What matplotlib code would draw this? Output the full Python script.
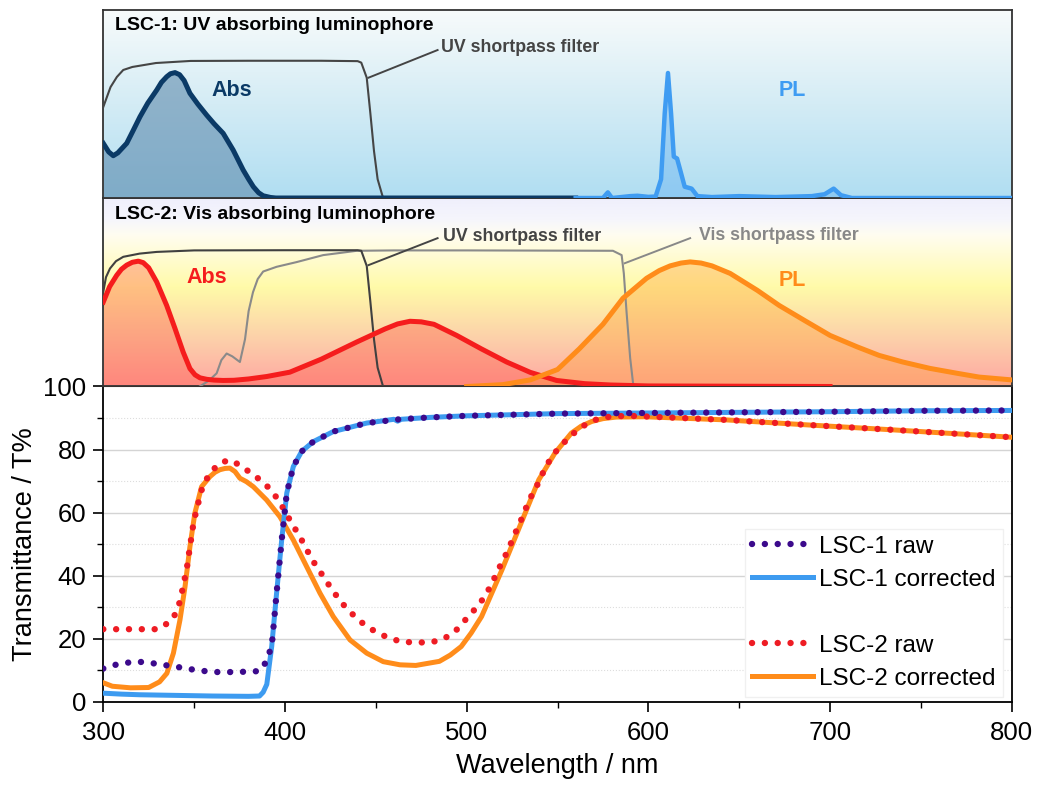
import numpy as np
import matplotlib
matplotlib.use('Agg')
import matplotlib.pyplot as plt
from matplotlib.colors import LinearSegmentedColormap
from matplotlib.lines import Line2D

plt.rcParams['font.family'] = ['Liberation Sans', 'DejaVu Sans']

# ---- 上图：LSC-1 示意光谱（归一化 0-1）----
uv_filter_wl = [300, 304, 307.5, 311, 316, 329, 348, 380, 420, 440, 442, 445, 447, 449, 451, 454]
uv_filter_1 = [0.484, 0.59, 0.644, 0.681, 0.697, 0.718, 0.729, 0.73, 0.73, 0.728, 0.72, 0.64, 0.45, 0.25, 0.1, 0.0]

abs1_wl = [300, 303, 305.5, 308, 312.9, 316.5, 320.2, 324.5, 329.4, 332, 334.9, 337, 339.5, 342,
           344.5, 347.7, 352, 356.9, 361, 366, 371.5, 377, 380, 382.6, 385.5, 388, 392, 395, 560]
abs1 = [0.291, 0.245, 0.225, 0.24, 0.291, 0.36, 0.432, 0.505, 0.574, 0.615, 0.645, 0.661, 0.667, 0.656,
        0.625, 0.557, 0.5, 0.441, 0.395, 0.344, 0.255, 0.149, 0.1, 0.06, 0.028, 0.012, 0.003, 0.0, 0.0]

pl1_wl = [560, 575, 577.7, 580, 590, 594, 600, 604, 607, 609, 610.8, 612.5, 614, 615.8, 617.5, 620,
          623.8, 627, 635, 650, 670, 690, 697, 702, 706, 712, 800]
pl1 = [0, 0, 0.03, 0, 0.01, 0.012, 0.006, 0.008, 0.1, 0.45, 0.665, 0.45, 0.22, 0.21, 0.15, 0.06,
       0.05, 0.01, 0.005, 0.01, 0.005, 0.01, 0.02, 0.05, 0.015, 0, 0]

# ---- 中图：LSC-2 示意光谱 ----
uv_filter_wl2 = [300, 301.5, 303.7, 307, 311, 320, 329.4, 350, 400, 440, 442, 445, 447, 449, 451, 454]
uv_filter_2 = [0.502, 0.58, 0.626, 0.665, 0.688, 0.705, 0.714, 0.722, 0.723, 0.723, 0.72, 0.64, 0.45,
               0.25, 0.1, 0.0]

vis_filter_wl = [353, 358, 362.4, 365, 367.9, 371, 375.2, 378, 380, 382.4, 385, 388, 395.4, 406.4,
                 421, 439.5, 460, 500, 580.5, 585.3, 586.5, 588, 590, 591.6, 593]
vis_filter = [0, 0.03, 0.07, 0.14, 0.175, 0.16, 0.13, 0.25, 0.40, 0.50, 0.57, 0.61, 0.635, 0.66,
              0.697, 0.72, 0.722, 0.722, 0.72, 0.697, 0.6, 0.395, 0.15, 0.016, 0.0]

abs2_wl = [300, 303.5, 307.4, 310, 312.9, 316, 319.3, 322, 325, 329.4, 334.9, 339.5, 344, 347.7,
           350.5, 353.2, 357, 361, 366, 372, 380, 390, 402.7, 420, 439.5, 455, 462, 468.8, 475, 482,
           494.5, 508, 522, 535, 549.5, 565, 579, 600, 700]
abs2 = [0.448, 0.53, 0.59, 0.622, 0.644, 0.659, 0.665, 0.657, 0.63, 0.555, 0.43, 0.307, 0.182, 0.095,
        0.062, 0.046, 0.038, 0.034, 0.032, 0.033, 0.04, 0.053, 0.076, 0.145, 0.236, 0.305, 0.332, 0.346,
        0.343, 0.33, 0.271, 0.2, 0.13, 0.075, 0.032, 0.015, 0.008, 0.003, 0]

pl2_wl = [500, 520, 535, 550, 562, 575, 586, 599, 606, 612, 618, 623, 629, 635, 645, 660, 672, 686,
          700, 715, 727, 740, 755, 770, 782, 800]
pl2 = [0.0, 0.01, 0.035, 0.09, 0.2, 0.33, 0.468, 0.574, 0.615, 0.64, 0.655, 0.661, 0.655, 0.64, 0.60,
       0.51, 0.43, 0.35, 0.271, 0.21, 0.165, 0.13, 0.096, 0.07, 0.05, 0.035]

# ---- 下图：透过率 T% ----
wl1_corr = [300, 310, 320, 340, 360, 380, 386, 388, 390, 392.7, 395.4, 398.2, 401, 404.6, 409.2,
            415.6, 426.6, 445, 460, 462, 464, 480, 500, 550, 600, 650, 700, 750, 800]
t1_corr = [2.7, 2.4, 2.2, 2.0, 1.8, 1.7, 1.8, 3.0, 5.5, 17.5, 34.5, 51.3, 66.2, 74.6, 79.4,
           82.5, 85.7, 88.4, 89.6, 89.0, 89.6, 90.2, 90.7, 91.4, 91.6, 91.8, 92.0, 92.3, 92.4]

wl1_raw = [300, 305, 312, 319, 326, 334, 341, 348, 356, 363, 371, 378, 386, 388.5, 390, 392.7,
           395.4, 398.2, 401, 404.6, 409.2, 415.6, 426.6, 445, 463, 480, 500, 550, 600, 650, 700, 750, 800]
t1_raw = [10.5, 11.5, 12.3, 12.7, 12.3, 11.6, 11.0, 10.3, 9.7, 9.4, 9.4, 9.5, 9.7, 11.5, 13.5, 17.5,
          34.5, 51.3, 66.2, 74.6, 79.4, 82.5, 85.7, 88.4, 89.6, 90.2, 90.7, 91.4, 91.6, 91.8, 92.0, 92.3, 92.4]

wl2_corr = [300, 305, 315, 325, 331, 335, 338.6, 342.2, 345, 347.7, 350.4, 354.1, 358.7, 361.5, 364.2,
            367, 369.7, 372.5, 375.2, 378.8, 382.6, 389.9, 397.2, 404.6, 411.9, 419.3, 426.6, 435.8,
            445, 454.1, 463.3, 472, 485, 491, 497, 502.5, 508.2, 519.4, 530.7, 539.7, 548.6, 557.6,
            563, 568.8, 575, 582.3, 598, 643, 688, 733, 778, 800]
t2_corr = [6.0, 4.9, 4.4, 4.5, 6.3, 9.0, 15.4, 25.9, 36.5, 49.2, 59.8, 68.2, 71.4, 72.8, 73.6,
           74.0, 74.1, 73.0, 70.9, 69.8, 68.2, 64.0, 58.7, 51.3, 42.9, 34.4, 27.0, 19.6,
           15.4, 12.7, 11.7, 11.5, 12.8, 14.8, 17.5, 21.8, 27.0, 41.8, 57.7, 70.4, 78.9, 85.2,
           87.4, 88.9, 89.8, 90.3, 90.4, 89.4, 87.8, 86.3, 84.7, 83.9]

wl2_raw = [300, 308, 315, 322, 330, 337.4, 340.9, 342.8, 344.4, 345.9, 347, 348.1, 349.2, 350.7,
           352.5, 354.5, 358.3, 363.9, 369.7, 375.6, 382, 387.7, 392.7, 396.9, 400.6, 404, 407.9,
           411.4, 415, 419.3, 423.5, 428, 433, 438.5, 444.4, 450.5, 456.8, 464.2, 471.5, 480, 487,
           493.5, 499.2, 504.8, 509.3, 513, 516.5, 520, 522.9, 525.8, 528.9, 531.8, 535, 538.5,
           541.9, 545.3, 549.8, 555.4, 561, 566.7, 573.4, 580, 589, 598, 643, 688, 733, 778, 800]
t2_raw = [23, 23, 23, 23, 23, 25.6, 29.1, 33.4, 37.9, 42, 46.4, 50.6, 55, 59.3,
          63.5, 67.9, 72.2, 75.7, 76.7, 74.9, 72.2, 69.8, 66.9, 63.5, 59.8, 56.3, 52.7,
          48.9, 45, 41.3, 37.6, 33.9, 30.2, 27, 24.1, 22, 20.3, 19, 18.8, 18.8, 19.8,
          22.2, 25.9, 29.5, 32.8, 36.5, 40.7, 45, 48.1, 52.4, 56.1, 60.3, 64.6, 68.3,
          72.5, 76.2, 79.9, 83.3, 86.2, 88.4, 90, 90.5, 90.7, 90.5, 89.4, 87.8, 86.3, 84.7, 83.9]

fig = plt.figure(figsize=(10.41, 7.87), dpi=100)
left, width = 0.0992, 0.8727
ax = fig.add_axes([left, 0.1084, width, 0.4005])
ax2 = fig.add_axes([left, 0.5089, width, 0.2395])
ax1 = fig.add_axes([left, 0.7484, width, 0.2389])


def 背景渐变(a, stops):
    cmap = LinearSegmentedColormap.from_list('bg', stops)
    a.imshow(np.linspace(0, 1, 256).reshape(-1, 1), cmap=cmap, extent=[300, 800, 0, 1],
             aspect='auto', origin='lower', zorder=0)


def 面板设置(a):
    a.set_xlim(300, 800)
    a.set_ylim(0, 1)
    a.set_xticks([])
    a.set_yticks([])
    for s in a.spines.values():
        s.set_color('#333333')
        s.set_linewidth(1.3)


# 面板1
背景渐变(ax1, [(0, '#b0def2'), (0.5, '#d4ecf5'), (1, '#f8fbfb')])
ax1.fill_between(abs1_wl, abs1, color='#5f8bad', alpha=0.6, lw=0, zorder=2)
ax1.fill_between(pl1_wl, pl1, color='#3f9cf2', alpha=0.3, lw=0, zorder=2)
ax1.plot(uv_filter_wl, uv_filter_1, color='#454545', lw=1.5, zorder=3)
ax1.plot(abs1_wl, abs1, color='#0b3a66', lw=3.6, zorder=4, solid_joinstyle='round')
ax1.plot(pl1_wl, pl1, color='#3f9cf2', lw=3.2, zorder=4, solid_joinstyle='round')
ax1.text(0.013, 0.915, 'LSC-1: UV absorbing luminophore', transform=ax1.transAxes,
         fontsize=14, fontweight='bold', va='center', ha='left', color='black')
ax1.text(486, 0.80, 'UV shortpass filter', fontsize=12.8, fontweight='bold', color='#444444',
         va='center', ha='left')
ax1.plot([484, 446], [0.787, 0.64], color='#444444', lw=1.4, zorder=3)
ax1.text(371, 0.574, 'Abs', fontsize=15.5, fontweight='bold', color='#0b3a66', ha='center', va='center')
ax1.text(679, 0.574, 'PL', fontsize=15.5, fontweight='bold', color='#3f9cf2', ha='center', va='center')
面板设置(ax1)

# 面板2
背景渐变(ax2, [(0, '#ffa8a2'), (0.25, '#fcd0aa'), (0.52, '#fffaa8'), (0.8, '#fffdf0'),
               (0.88, '#f6f6fc'), (1, '#efeffc')])
ax2.fill_between(abs2_wl, abs2, color='#ff3a2a', alpha=0.3, lw=0, zorder=2)
ax2.fill_between(pl2_wl, pl2, color='#ff9a2a', alpha=0.35, lw=0, zorder=2)
ax2.plot(vis_filter_wl, vis_filter, color='#8a8a8a', lw=1.5, zorder=3)
ax2.plot(uv_filter_wl2, uv_filter_2, color='#404040', lw=1.5, zorder=3)
ax2.plot(abs2_wl, abs2, color='#f51d1d', lw=3.6, zorder=4, solid_joinstyle='round')
ax2.plot(pl2_wl, pl2, color='#ff8c1a', lw=3.6, zorder=4, solid_joinstyle='round')
ax2.text(0.013, 0.91, 'LSC-2: Vis absorbing luminophore', transform=ax2.transAxes,
         fontsize=14, fontweight='bold', va='center', ha='left', color='black')
ax2.text(487, 0.795, 'UV shortpass filter', fontsize=12.8, fontweight='bold', color='#444444',
         va='center', ha='left')
ax2.plot([484, 446], [0.787, 0.644], color='#444444', lw=1.4, zorder=3)
ax2.text(628, 0.803, 'Vis shortpass filter', fontsize=12.8, fontweight='bold', color='#888888',
         va='center', ha='left')
ax2.plot([623, 587], [0.787, 0.654], color='#888888', lw=1.4, zorder=3)
ax2.text(357, 0.58, 'Abs', fontsize=15.5, fontweight='bold', color='#f51d1d', ha='center', va='center')
ax2.text(679, 0.564, 'PL', fontsize=15.5, fontweight='bold', color='#ff8c1a', ha='center', va='center')
面板设置(ax2)

# 下图透过率
ax.plot(wl2_corr, t2_corr, color='#ff8c1a', lw=3.6, zorder=3, label='LSC-2 corrected',
        solid_joinstyle='round')
ax.plot(wl1_corr, t1_corr, color='#3d9bf0', lw=3.6, zorder=3, label='LSC-1 corrected',
        solid_joinstyle='round')
ax.plot(wl2_raw, t2_raw, color='#ee1c24', lw=4.6, ls=(0, (0.01, 2.0)), dash_capstyle='round',
        zorder=4, label='LSC-2 raw')
ax.plot(wl1_raw, t1_raw, color='#3c0a8c', lw=4.6, ls=(0, (0.01, 2.0)), dash_capstyle='round',
        zorder=5, label='LSC-1 raw')

ax.set_xlim(300, 800)
ax.set_ylim(0, 100)
ax.set_xticks(range(300, 801, 100))
ax.set_xticks(range(350, 800, 100), minor=True)
ax.set_yticks(range(0, 101, 20))
ax.set_yticks(range(10, 100, 20), minor=True)
ax.tick_params(which='major', direction='out', length=7, width=1.2, labelsize=18.5, pad=5)
ax.tick_params(which='minor', direction='out', length=4, width=1.0)
ax.tick_params(axis='x', pad=7)
ax.grid(axis='y', which='major', color='#d4d4d4', lw=1.0)
ax.grid(axis='y', which='minor', color='#dddddd', lw=0.8, ls=':')
ax.set_axisbelow(True)
for s in ax.spines.values():
    s.set_linewidth(1.3)
    s.set_color('black')
ax.set_xlabel('Wavelength / nm', fontsize=19.5, labelpad=6)
ax.set_ylabel('Transmittance / T%', fontsize=19.5, labelpad=4)

h = {l.get_label(): l for l in ax.get_lines()}
blank = Line2D([], [], alpha=0)
leg = ax.legend([h['LSC-1 raw'], h['LSC-1 corrected'], blank, h['LSC-2 raw'], h['LSC-2 corrected']],
                ['LSC-1 raw', 'LSC-1 corrected', ' ', 'LSC-2 raw', 'LSC-2 corrected'],
                loc='lower right', bbox_to_anchor=(0.99, 0.015), borderaxespad=0,
                fontsize=17.5, handlelength=2.5, handletextpad=0.25, labelspacing=0.45,
                borderpad=0.3, fancybox=False, framealpha=1, edgecolor='#f0f0f0')

fig.savefig('out.png', dpi=100)
